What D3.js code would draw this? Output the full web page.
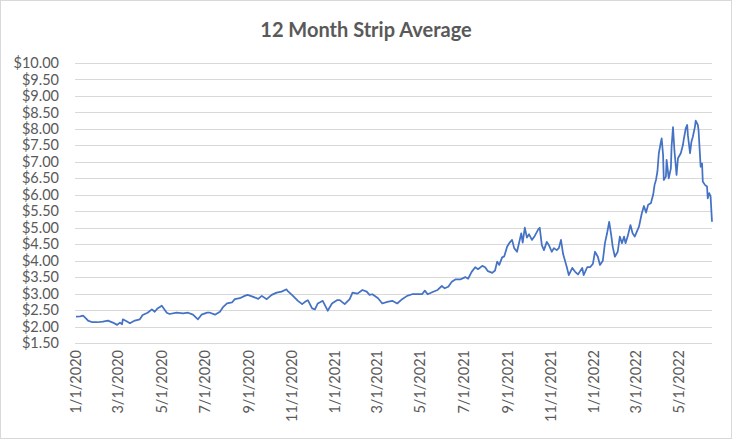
<!DOCTYPE html>
<html>
<head>
<meta charset="utf-8">
<script src="https://cdn.jsdelivr.net/npm/d3@7"></script>
<style>
  html, body { margin: 0; padding: 0; background: #fff; }
  svg { display: block; }
</style>
</head>
<body>
<svg id="chart" width="732" height="439"></svg>
<script>
const chartTitle = "12 Month Strip Average";

const dates = [
  "2020-01-02","2020-01-08","2020-01-12","2020-01-16","2020-01-19","2020-01-25","2020-02-01",
  "2020-02-09","2020-02-16","2020-02-23","2020-02-29",
  "2020-03-04","2020-03-07","2020-03-08","2020-03-14","2020-03-18","2020-03-25","2020-04-01",
  "2020-04-05","2020-04-12","2020-04-18","2020-04-22","2020-04-26","2020-05-02",
  "2020-05-09","2020-05-13","2020-05-23","2020-06-01",
  "2020-06-08","2020-06-15","2020-06-22","2020-06-27","2020-07-05",
  "2020-07-09","2020-07-16","2020-07-23","2020-07-27","2020-08-02",
  "2020-08-09","2020-08-13","2020-08-20","2020-08-27","2020-08-31",
  "2020-09-08","2020-09-15","2020-09-20","2020-09-27",
  "2020-10-04","2020-10-11","2020-10-18","2020-10-25","2020-10-26",
  "2020-11-03","2020-11-10","2020-11-16","2020-11-20","2020-11-24","2020-11-30",
  "2020-12-04","2020-12-08","2020-12-15","2020-12-22","2020-12-28",
  "2021-01-04","2021-01-08","2021-01-15","2021-01-22","2021-01-26",
  "2021-02-02","2021-02-09","2021-02-15","2021-02-19","2021-02-23",
  "2021-03-03","2021-03-09","2021-03-16","2021-03-23","2021-03-30",
  "2021-04-06","2021-04-13","2021-04-20","2021-04-27",
  "2021-05-04","2021-05-08","2021-05-12","2021-05-19","2021-05-26",
  "2021-06-01","2021-06-05","2021-06-10","2021-06-15","2021-06-20","2021-06-27",
  "2021-07-04","2021-07-08","2021-07-13","2021-07-18","2021-07-22","2021-07-28",
  "2021-08-01","2021-08-05","2021-08-11","2021-08-15","2021-08-18","2021-08-21","2021-08-25","2021-08-28",
  "2021-09-01","2021-09-04","2021-09-08","2021-09-11","2021-09-15","2021-09-18","2021-09-21","2021-09-23","2021-09-26","2021-09-29",
  "2021-10-02","2021-10-06","2021-10-10","2021-10-15","2021-10-17","2021-10-20","2021-10-23","2021-10-27","2021-10-30",
  "2021-11-03","2021-11-06","2021-11-10","2021-11-13","2021-11-16","2021-11-19","2021-11-24","2021-11-27",
  "2021-12-02","2021-12-06","2021-12-10","2021-12-16","2021-12-18","2021-12-23","2021-12-27","2021-12-31",
  "2022-01-03","2022-01-07","2022-01-10","2022-01-14","2022-01-17","2022-01-20","2022-01-23","2022-01-26","2022-01-28",
  "2022-01-31","2022-02-04","2022-02-07","2022-02-10","2022-02-13","2022-02-15","2022-02-18","2022-02-22","2022-02-25",
  "2022-02-28","2022-03-03","2022-03-06","2022-03-10","2022-03-13","2022-03-16","2022-03-19","2022-03-23","2022-03-24","2022-03-26","2022-03-28","2022-03-30",
  "2022-04-01","2022-04-03","2022-04-06","2022-04-07","2022-04-09","2022-04-10","2022-04-13","2022-04-14","2022-04-17","2022-04-20","2022-04-21","2022-04-23","2022-04-25","2022-04-28","2022-04-30",
  "2022-05-04","2022-05-07","2022-05-08","2022-05-11","2022-05-13","2022-05-14","2022-05-17","2022-05-19","2022-05-21","2022-05-24","2022-05-25","2022-05-28","2022-05-29",
  "2022-06-01","2022-06-03","2022-06-04","2022-06-07","2022-06-10","2022-06-11","2022-06-13","2022-06-15","2022-06-17"
];

const prices = [
  2.30,2.31,2.33,2.25,2.18,2.13,2.13,
  2.15,2.18,2.12,2.05,
  2.12,2.07,2.22,2.15,2.10,2.18,2.22,
  2.35,2.42,2.52,2.45,2.55,2.63,
  2.42,2.38,2.42,2.40,
  2.42,2.36,2.22,2.36,2.42,
  2.42,2.36,2.45,2.58,2.70,
  2.73,2.83,2.86,2.93,2.96,
  2.90,2.84,2.93,2.83,
  2.96,3.03,3.06,3.13,3.09,
  2.93,2.78,2.68,2.75,2.80,2.55,
  2.52,2.70,2.78,2.48,2.70,
  2.80,2.80,2.68,2.83,3.03,
  3.00,3.11,3.06,2.96,2.98,
  2.86,2.70,2.75,2.78,2.70,
  2.83,2.93,2.98,2.98,
  2.98,3.09,2.98,3.05,3.11,
  3.23,3.16,3.21,3.36,3.43,3.43,
  3.50,3.45,3.66,3.80,3.74,3.84,
  3.80,3.68,3.63,3.70,3.97,3.87,4.10,4.13,
  4.42,4.53,4.63,4.38,4.27,4.55,4.83,4.55,5.00,4.70,
  4.80,4.63,4.75,4.95,5.00,4.47,4.32,4.57,4.47,
  4.27,4.38,4.32,4.38,4.63,4.20,3.82,3.56,
  3.78,3.66,3.58,3.78,3.56,3.80,3.80,3.90,
  4.27,4.12,3.87,4.00,4.53,4.83,5.18,4.75,4.42,
  4.12,4.27,4.73,4.53,4.73,4.53,4.73,5.08,4.83,
  4.73,4.88,5.03,5.44,5.66,5.46,5.70,5.75,5.84,6.00,6.30,6.45,
  6.70,7.26,7.61,7.71,7.21,6.45,6.55,7.06,6.50,6.80,7.46,8.05,7.35,6.60,7.11,
  7.26,7.51,7.66,8.02,8.12,7.81,7.26,7.61,7.76,8.07,8.25,8.12,7.97,
  6.85,6.95,6.40,6.30,6.25,5.89,6.05,5.95,5.18
];

const yTicks = [1.5,2,2.5,3,3.5,4,4.5,5,5.5,6,6.5,7,7.5,8,8.5,9,9.5,10];
const xTickDates = ["2020-01-01","2020-03-01","2020-05-01","2020-07-01","2020-09-01","2020-11-01",
  "2021-01-01","2021-03-01","2021-05-01","2021-07-01","2021-09-01","2021-11-01",
  "2022-01-01","2022-03-01","2022-05-01"];
const xTickLabels = ["1/1/2020","3/1/2020","5/1/2020","7/1/2020","9/1/2020","11/1/2020",
  "1/1/2021","3/1/2021","5/1/2021","7/1/2021","9/1/2021","11/1/2021",
  "1/1/2022","3/1/2022","5/1/2022"];

const parse = d3.utcParse("%Y-%m-%d");
const data = dates.map((d, i) => ({ date: parse(d), value: prices[i] }));

const svg = d3.select("#chart");
const W = 732, H = 439;
const plot = { left: 76, right: 712, top: 63, bottom: 343 };
const fontFam = "Lato, 'Open Sans', sans-serif";
const textColor = "#595959";

svg.append("rect").attr("x", 0.5).attr("y", 0.5).attr("width", W - 1).attr("height", H - 1)
  .attr("fill", "#fff").attr("stroke", "#d9d9d9");

const x = d3.scaleUtc()
  .domain([parse("2020-01-02"), parse("2022-06-17")])
  .range([plot.left, plot.right]);
const y = d3.scaleLinear().domain([1.5, 10]).range([plot.bottom, plot.top]);

const yAxis = d3.axisLeft(y).tickValues(yTicks)
  .tickSize(-(plot.right - plot.left + 1)).tickPadding(15)
  .tickFormat(d => "$" + d3.format(".2f")(d));
const gy = svg.append("g").attr("transform", `translate(${plot.left - 1},0)`).call(yAxis);
gy.select(".domain").remove();
gy.selectAll(".tick line").attr("stroke", "#d9d9d9").attr("stroke-width", 1)
  .attr("shape-rendering", "crispEdges");
gy.selectAll(".tick text").attr("fill", textColor).attr("font-family", fontFam)
  .attr("font-size", "14.5px").attr("x", -16);

const xAxis = d3.axisBottom(x).tickValues(xTickDates.map(parse))
  .tickSize(0).tickFormat((d, i) => xTickLabels[i]);
const gx = svg.append("g").attr("transform", `translate(0,${plot.bottom})`).call(xAxis);
gx.select(".domain").remove();
gx.selectAll(".tick text")
  .attr("fill", textColor).attr("font-family", fontFam).attr("font-size", "14.5px")
  .attr("text-anchor", "end")
  .attr("transform", "rotate(-90)")
  .attr("x", -7).attr("y", 0).attr("dy", "0.35em");

const line = d3.line().x(d => x(d.date)).y(d => y(d.value));
svg.append("path").datum(data)
  .attr("fill", "none").attr("stroke", "#4472C4").attr("stroke-width", 1.75)
  .attr("stroke-linejoin", "round").attr("d", line);

svg.append("text").attr("x", 366).attr("y", 37).attr("text-anchor", "middle")
  .attr("fill", textColor).attr("font-family", fontFam).attr("font-size", "20px")
  .attr("font-weight", 700).text(chartTitle);
</script>
</body>
</html>
